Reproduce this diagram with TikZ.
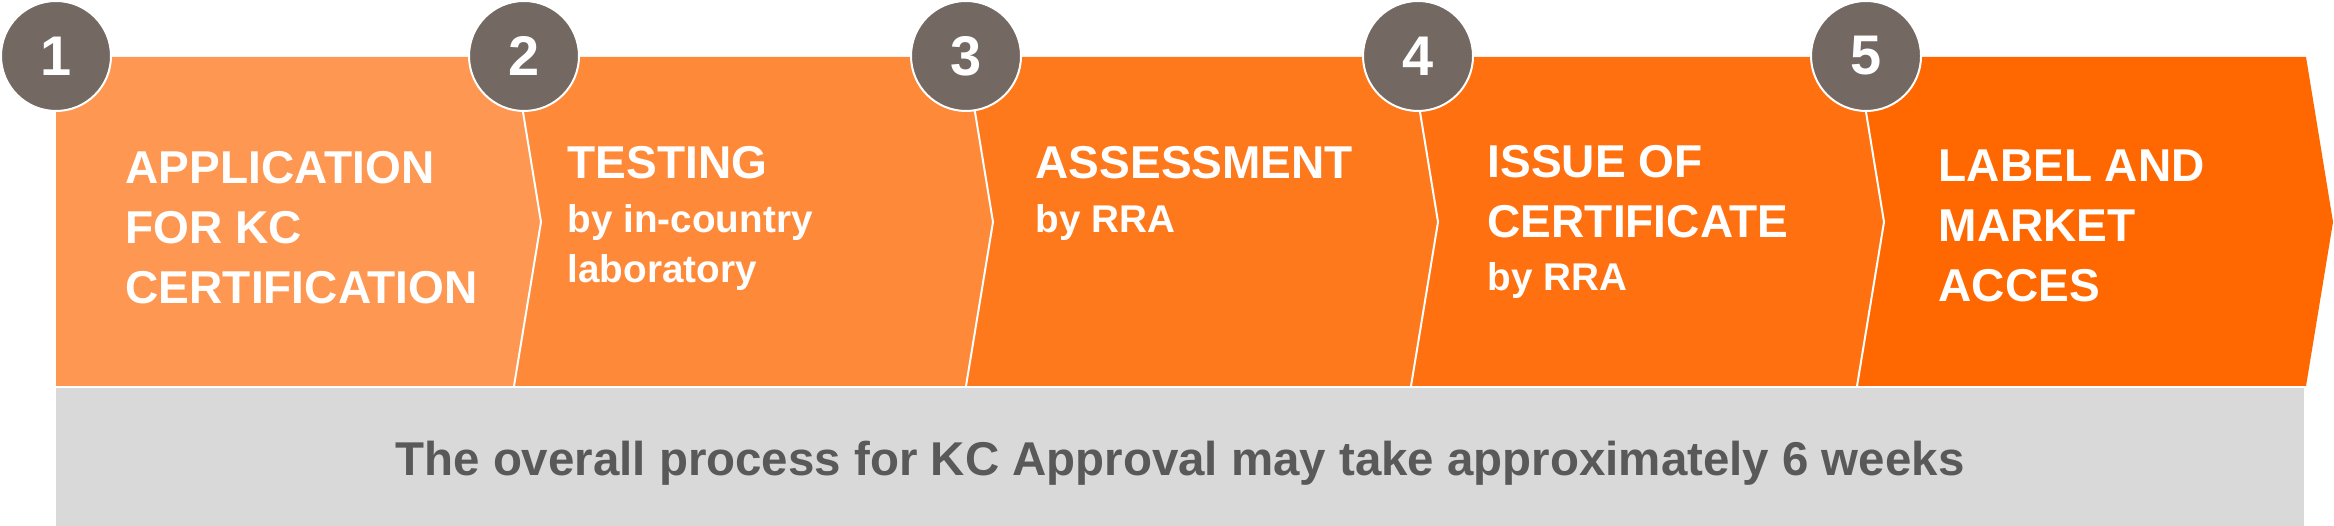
\documentclass[tikz,border=0pt]{standalone}
\usepackage{fontspec}
\setmainfont{Liberation Sans}
\usetikzlibrary{positioning}
\usetikzlibrary{calc}

\definecolor{stage1}{RGB}{254,151,82}
\definecolor{stage2}{RGB}{254,137,56}
\definecolor{stage3}{RGB}{254,120,28}
\definecolor{stage4}{RGB}{255,112,16}
\definecolor{stage5}{RGB}{255,104,0}
\definecolor{badgegray}{RGB}{116,104,98}
\definecolor{barfill}{RGB}{217,217,217}
\definecolor{bartext}{RGB}{89,89,89}

\tikzset{
  divider/.style={draw=white, line width=0.2mm, line join=miter},
  badge/.style={circle, fill=badgegray, draw=white, line width=0.2mm,
    minimum size=11mm, inner sep=0pt, text=white,
    font=\fontsize{15.9}{18}\selectfont\bfseries},
  headline/.style={anchor=north west, align=left, inner sep=0pt, text=white,
    font=\fontsize{13.1}{17.07}\selectfont\bfseries},
  subline/.style={anchor=north west, align=left, inner sep=0pt, text=white,
    font=\fontsize{11}{14.23}\selectfont\bfseries},
  notetext/.style={anchor=base, inner sep=0pt, text=bartext,
    font=\fontsize{13.5}{16}\selectfont\bfseries}
}

\begin{document}
\begin{tikzpicture}[x=0.1mm, y=-0.1mm]
  \useasboundingbox (0,0) rectangle (2334,526);

  \coordinate (t0) at (56,57);
  \coordinate (m0) at (56,222);
  \coordinate (b0) at (56,386);
  \foreach \n/\x in {1/514,2/966,3/1411,4/1857,5/2306}
  {
    \coordinate (t\n) at (\x,57);
    \coordinate (m\n) at (\x+27,222);
    \coordinate (b\n) at (\x,386);
  }

  \foreach \n [remember=\n as \p (initially 0)] in {1,...,5}
    \fill[stage\n] (t\p) -- (t\n) -- (m\n) -- (b\n) -- (b\p) -- (m\p) -- cycle;
  \foreach \n in {1,...,4}
    \draw[divider] (t\n) -- (m\n) -- (b\n);

  \fill[barfill] (56,388) rectangle (2304,526);
  \node[notetext] (note) at (1180,476)
    {The overall process for KC Approval may take approximately 6 weeks};

  \foreach \n/\x in {1/56,2/524,3/966,4/1418,5/1866}
    \node[badge] (badge\n) at (\x,56) {\n};

  \node[headline] (head1) at (125,151) {APPLICATION\\FOR KC\\CERTIFICATION};
  \node[headline] (head2) at (567,146) {TESTING};
  \node[subline]  (sub2)  at (567,204) {by in-country\\laboratory};
  \node[headline] (head3) at (1035,146) {ASSESSMENT};
  \node[subline]  (sub3)  at (1035,204) {by RRA};
  \node[headline] (head4) at (1487,145) {ISSUE OF\\CERTIFICATE};
  \node[subline]  (sub4)  at (1487,262) {by RRA};
  \node[headline] (head5) at (1938,149) {LABEL AND\\MARKET\\ACCES};
\end{tikzpicture}
\end{document}
